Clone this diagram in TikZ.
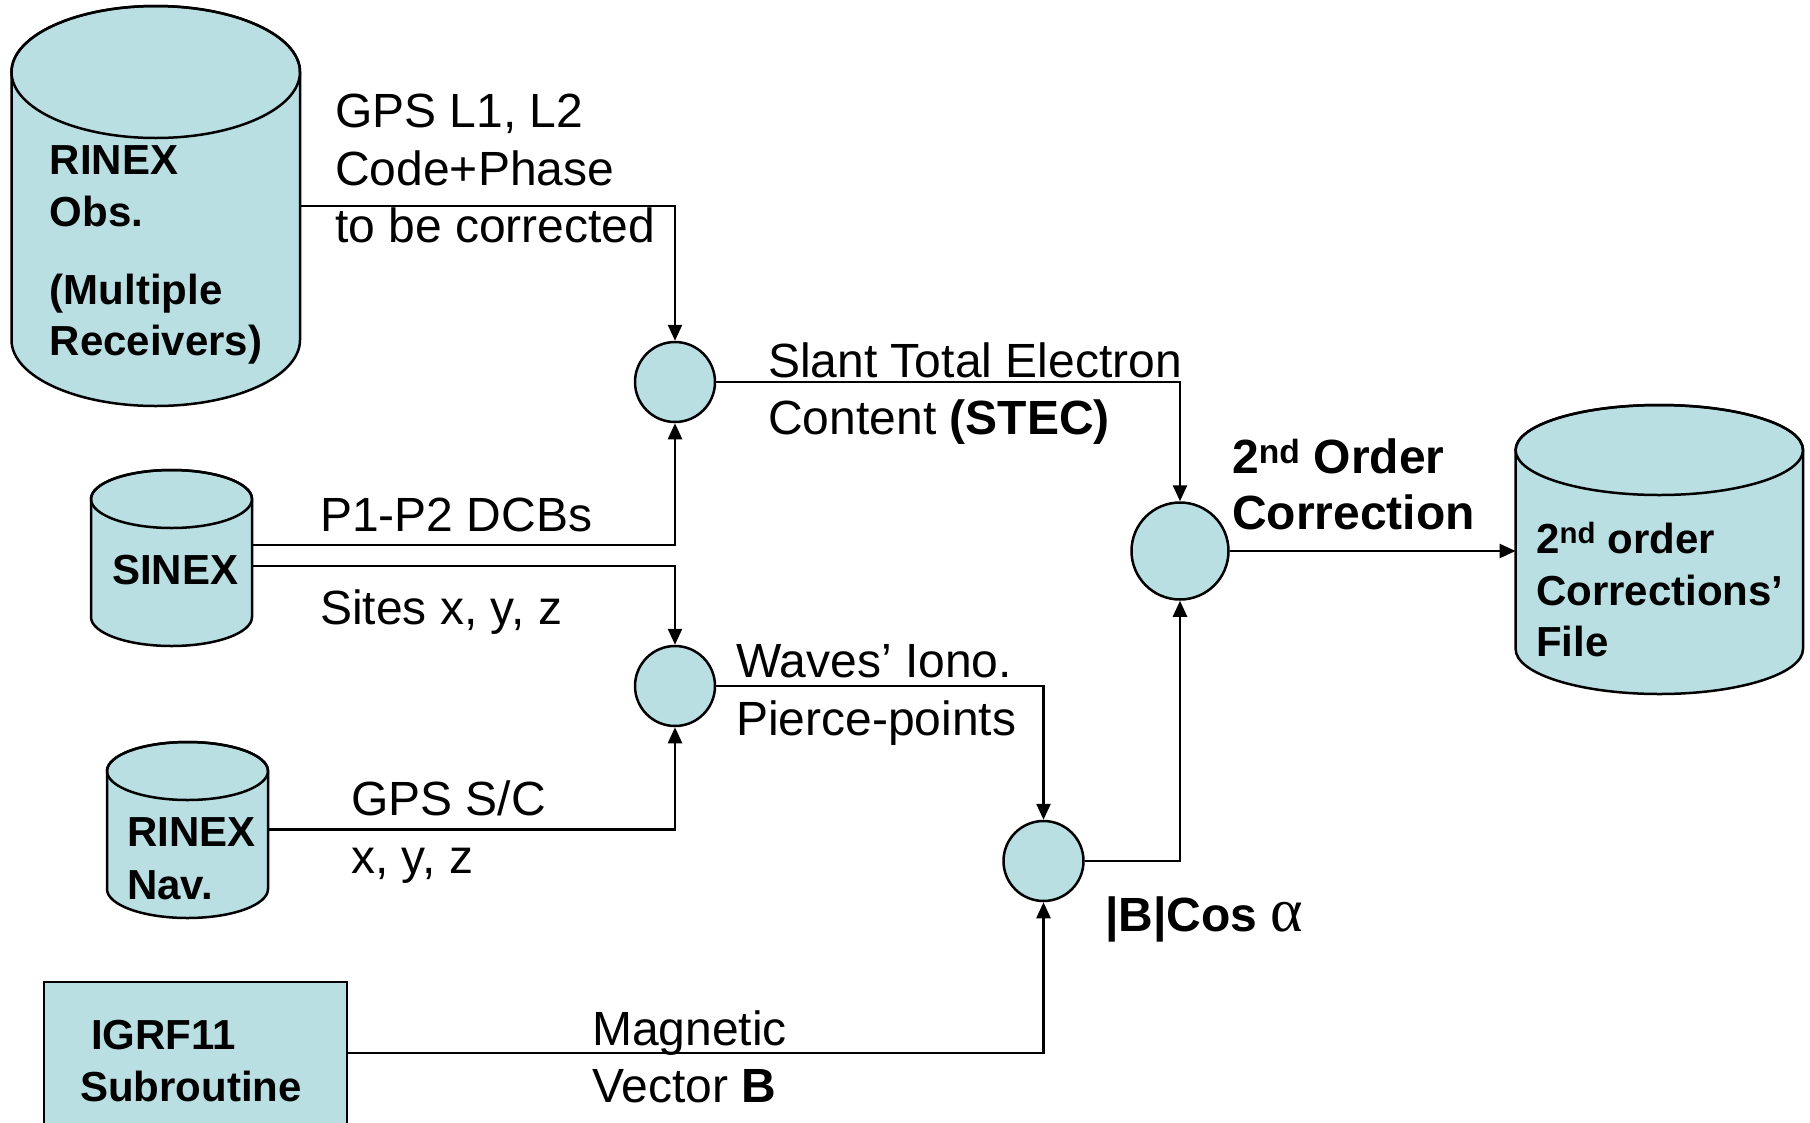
\documentclass[tikz,border=0pt]{standalone}
\usepackage{fontspec}
\setmainfont{Liberation Sans}
\newfontfamily\greekfont{Liberation Serif}
\usetikzlibrary{arrows.meta}
\definecolor{cyl}{RGB}{185,223,227}
\begin{document}
\begin{tikzpicture}[x=1pt,y=1pt, line width=2.5pt,
  shapefill/.style={draw=black, fill=cyl, line width=2.5pt},
  arr/.style={-{Triangle[length=16pt,width=14pt]}, line width=2.5pt},
  circ/.style={circle, draw, fill=cyl, inner sep=0pt, line width=2.5pt},
  hold/.style={inner sep=0pt, outer sep=0pt, rectangle},
  lab/.style={anchor=base west, inner sep=0pt, font=\fontsize{48}{57}\selectfont},
  blab/.style={anchor=base west, inner sep=0pt, font=\fontsize{48}{57}\selectfont\bfseries},
  ctext/.style={anchor=base west, inner sep=0pt, font=\fontsize{42}{50}\selectfont\bfseries}]
\useasboundingbox[fill=white] (0,0) rectangle (1810,-1122);

% RINEX Obs cylinder
\path[shapefill] (11.5,-72) -- (11.5,-340) arc[start angle=180,end angle=360,x radius=144.25,y radius=66] -- (300,-72) arc[start angle=0,end angle=180,x radius=144.25,y radius=66] -- cycle;
\draw (155.75,-72) ellipse[x radius=144.25,y radius=66];
\node[hold, minimum width=288.5pt, minimum height=400pt] (obs) at (155.75,-206) {};

% SINEX cylinder
\path[shapefill] (91,-499) -- (91,-617) arc[start angle=180,end angle=360,x radius=80.5,y radius=29] -- (252,-499) arc[start angle=0,end angle=180,x radius=80.5,y radius=29] -- cycle;
\draw (171.5,-499) ellipse[x radius=80.5,y radius=29];
\node[hold, minimum width=161pt, minimum height=176pt] (sinex) at (171.5,-555.5) {};

% RINEX Nav cylinder
\path[shapefill] (107,-771) -- (107,-889) arc[start angle=180,end angle=360,x radius=80.5,y radius=29] -- (268,-771) arc[start angle=0,end angle=180,x radius=80.5,y radius=29] -- cycle;
\draw (187.5,-771) ellipse[x radius=80.5,y radius=29];
\node[hold, minimum width=161pt, minimum height=176pt] (nav) at (187.5,-829.5) {};

% Output file cylinder
\path[shapefill] (1515.6,-450) -- (1515.6,-649) arc[start angle=180,end angle=360,x radius=143.7,y radius=45] -- (1803,-450) arc[start angle=0,end angle=180,x radius=143.7,y radius=45] -- cycle;
\draw (1659.3,-450) ellipse[x radius=143.7,y radius=45];
\node[hold, minimum width=287.4pt, minimum height=288pt] (file) at (1659.3,-551) {};

% IGRF box
\node[hold, draw, fill=cyl, line width=2.5pt, minimum width=303pt, minimum height=142pt] (igrf) at (195.5,-1053) {};

% circles
\node[circ, minimum size=80pt] (c1) at (675,-382) {};
\node[circ, minimum size=80pt] (c2) at (675,-686) {};
\node[circ, minimum size=97pt] (c3) at (1180,-551) {};
\node[circ, minimum size=80pt] (c4) at (1043.5,-861) {};

% connectors
\draw[arr] (obs.east) -| (c1.north);
\draw[arr] ([yshift=10.5pt]sinex.east) -| (c1.south);
\draw[arr] ([yshift=-10.5pt]sinex.east) -| (c2.north);
\draw[arr] (nav.east) -| (c2.south);
\draw[arr] (c1.east) -| (c3.north);
\draw[arr] (c2.east) -| (c4.north);
\draw[arr] (c4.east) -| (c3.south);
\draw[arr] (igrf.east) -| (c4.south);
\draw[arr] (c3.east) -- (file.west);

% texts
\node[ctext] (tobs1) at (48.5,-174) {RINEX};
\node[ctext] (tobs2) at (48.5,-226) {Obs.};
\node[ctext] (tobs3) at (48.5,-304) {(Multiple};
\node[ctext] (tobs4) at (48.5,-355) {Receivers)};
\node[lab] (l1a) at (334,-127) {GPS L1, L2};
\node[lab] (l1b) at (334,-185) {Code+Phase};
\node[lab] (l1c) at (334,-242) {to be corrected};
\node[lab] (l2a) at (767,-377) {Slant Total Electron};
\node[lab] (l2b) at (767,-434) {Content \textbf{(STEC)}};
\node[blab] (l3a) at (1231,-473) {2\textsuperscript{nd} Order};
\node[blab] (l3b) at (1231,-529) {Correction};
\node[ctext] (tf1) at (1535,-553) {2\textsuperscript{nd} order};
\node[ctext] (tf2) at (1535,-605) {Corrections’};
\node[ctext] (tf3) at (1535,-656) {File};
\node[ctext] (tsinex) at (111,-584) {SINEX};
\node[lab] (l4) at (319,-531) {P1-P2 DCBs};
\node[lab] (l5) at (319,-624) {Sites x, y, z};
\node[ctext] (tnav1) at (126,-846) {RINEX};
\node[ctext] (tnav2) at (126,-899) {Nav.};
\node[lab] (l6a) at (350,-815) {GPS S/C};
\node[lab] (l6b) at (350,-873) {x, y, z};
\node[lab] (l7a) at (735,-677) {Waves’ Iono.};
\node[lab] (l7b) at (735,-735) {Pierce-points};
\node[blab] (l8) at (1104,-931) {|B|Cos {\greekfont\mdseries\fontsize{62}{62}\selectfont α}};
\node[ctext] (tig1) at (90,-1049) {IGRF11};
\node[ctext] (tig2) at (79,-1101) {Subroutine};
\node[lab] (l9a) at (591,-1045) {Magnetic};
\node[lab] (l9b) at (591,-1102) {Vector \textbf{B}};
\end{tikzpicture}
\end{document}
